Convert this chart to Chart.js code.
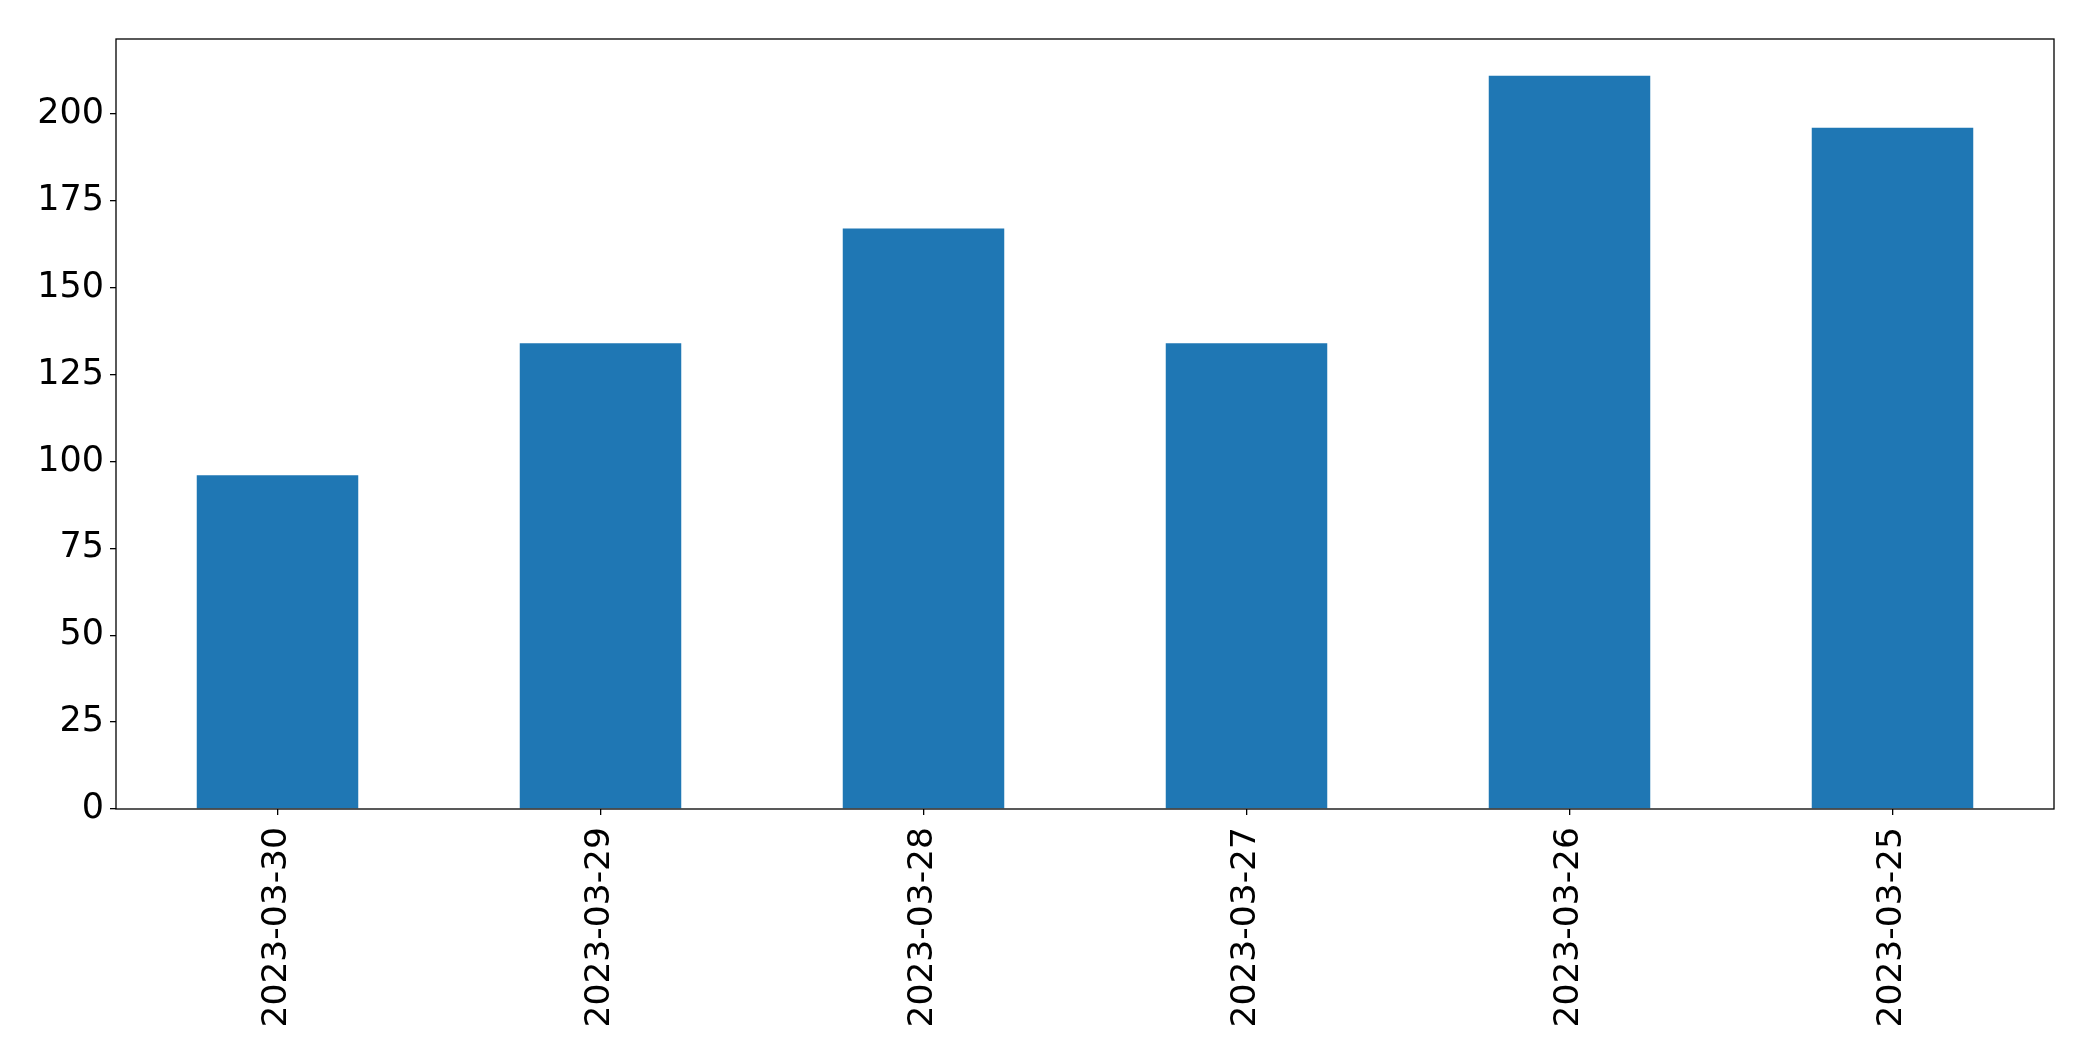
<!DOCTYPE html>
<html>
<head>
<meta charset="utf-8">
<script src="https://cdn.jsdelivr.net/npm/chart.js@4/dist/chart.umd.min.js"></script>
<style>
  html, body { margin: 0; padding: 0; background: #fff; }
  #wrap { width: 2093px; height: 1061px; }
</style>
</head>
<body>
<div id="wrap"><canvas id="chart" width="2093" height="1061"></canvas></div>
<script>
const dates = ['2023-03-30', '2023-03-29', '2023-03-28', '2023-03-27', '2023-03-26', '2023-03-25'];
const counts = [96, 134, 167, 134, 211, 196];
const yStep = 25;

// box around the plot area, like matplotlib's spines
const frame = {
  id: 'frame',
  afterDraw(chart) {
    const { ctx, chartArea: a } = chart;
    ctx.save();
    ctx.strokeStyle = '#000';
    ctx.lineWidth = 1.3;
    ctx.strokeRect(a.left, a.top, a.right - a.left, a.bottom - a.top);
    ctx.restore();
  },
};

const ctx = document.getElementById('chart').getContext('2d');
new Chart(ctx, {
  type: 'bar',
  data: {
    labels: dates,
    datasets: [
      {
        data: counts,
        backgroundColor: '#1f77b4',
        categoryPercentage: 1,
        barPercentage: 0.5,
      },
    ],
  },
  options: {
    responsive: false,
    animation: false,
    layout: { padding: { top: 39, right: 39, left: 0, bottom: 0 } },
    plugins: {
      legend: { display: false },
      tooltip: { enabled: false },
    },
    scales: {
      x: {
        grid: { display: true, drawOnChartArea: false, offset: false, tickLength: 6, color: '#000', lineWidth: 1.3 },
        border: { display: false },
        ticks: {
          color: '#000',
          font: { family: 'DejaVu Sans', size: 34.5 },
          minRotation: 90,
          maxRotation: 90,
          padding: 12,
        },
        afterFit(scale) { scale.height = 252; },
      },
      y: {
        min: 0,
        max: Math.max(...counts) * 1.05,
        grid: { display: true, drawOnChartArea: false, tickLength: 6, color: '#000', lineWidth: 1.3 },
        border: { display: false },
        ticks: {
          stepSize: yStep,
          includeBounds: false,
          color: '#000',
          font: { family: 'DejaVu Sans', size: 35 },
          padding: 6,
        },
        afterFit(scale) { scale.width = 116; },
      },
    },
  },
  plugins: [frame],
});
</script>
</body>
</html>
